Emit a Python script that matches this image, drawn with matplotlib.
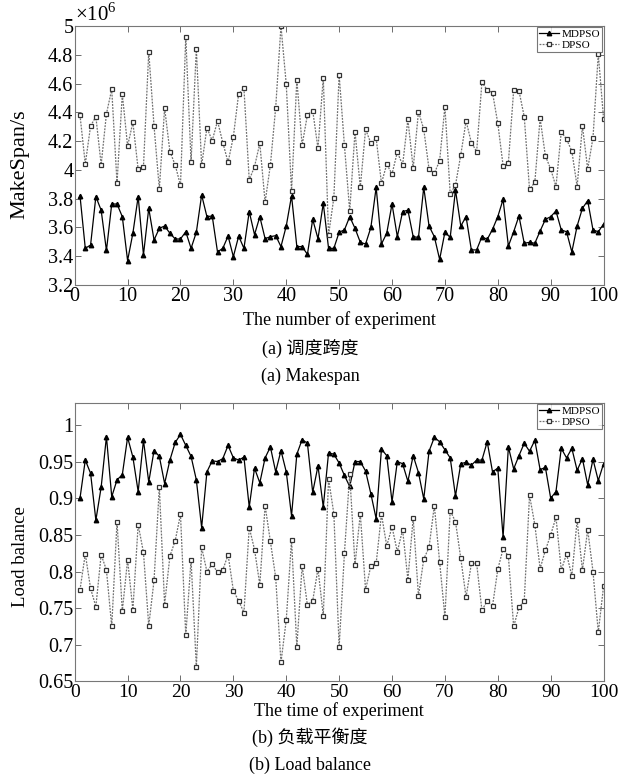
import numpy as np
import matplotlib
matplotlib.use("Agg")
import matplotlib.pyplot as plt
from matplotlib.ticker import FuncFormatter

plt.rcParams['font.family'] = ['Liberation Serif', 'Noto Sans CJK SC']
plt.rcParams['mathtext.fontset'] = 'custom'
plt.rcParams['mathtext.rm'] = 'Liberation Serif'

x = np.arange(1, 101)

# makespan, in units of 1e6 s
ms_mdpso = [3.82, 3.455, 3.478, 3.814, 3.72, 3.44, 3.763, 3.763, 3.675, 3.37,
            3.56, 3.815, 3.41, 3.733, 3.513, 3.594, 3.61, 3.56, 3.52, 3.52,
            3.57, 3.455, 3.567, 3.826, 3.675, 3.68, 3.43, 3.455, 3.54, 3.397,
            3.54, 3.455, 3.71, 3.55, 3.675, 3.522, 3.536, 3.543, 3.467, 3.61,
            3.82, 3.467, 3.467, 3.413, 3.656, 3.522, 3.768, 3.455, 3.455, 3.567,
            3.583, 3.675, 3.594, 3.497, 3.485, 3.6, 3.879, 3.485, 3.56, 3.763,
            3.536, 3.71, 3.72, 3.536, 3.531, 3.879, 3.61, 3.536, 3.378, 3.567,
            3.531, 3.86, 3.61, 3.675, 3.444, 3.444, 3.536, 3.517, 3.587, 3.675,
            3.795, 3.471, 3.57, 3.68, 3.49, 3.497, 3.49, 3.575, 3.656, 3.675,
            3.714, 3.583, 3.57, 3.43, 3.61, 3.733, 3.786, 3.583, 3.57, 3.624]
ms_dpso = [4.38, 4.041, 4.305, 4.37, 4.036, 4.39, 4.56, 3.909, 4.527, 4.166,
           4.33, 4.004, 4.023, 4.82, 4.305, 3.867, 4.43, 4.127, 4.034, 3.893,
           4.926, 4.057, 4.842, 4.032, 4.293, 4.203, 4.34, 4.19, 4.053, 4.231,
           4.53, 4.567, 3.93, 4.023, 4.185, 3.775, 4.034, 4.432, 5.0, 4.595,
           3.853, 4.625, 4.173, 4.382, 4.412, 4.15, 4.641, 3.548, 3.807, 4.66,
           4.17, 3.714, 4.266, 3.879, 4.282, 4.185, 4.22, 3.907, 4.039, 3.972,
           4.124, 4.034, 4.351, 4.011, 4.405, 4.282, 4.006, 3.976, 4.064, 4.44,
           3.833, 3.895, 4.104, 4.34, 4.19, 4.127, 4.609, 4.555, 4.537, 4.324,
           4.03, 4.05, 4.555, 4.55, 4.37, 3.865, 3.914, 4.358, 4.097, 4.006,
           3.884, 4.266, 4.212, 4.131, 3.884, 4.305, 4.006, 4.224, 4.805, 4.356]

lb_mdpso = [0.9, 0.952, 0.934, 0.87, 0.915, 0.984, 0.902, 0.925, 0.932, 0.983,
            0.956, 0.909, 0.979, 0.922, 0.965, 0.957, 0.92, 0.952, 0.976, 0.987,
            0.972, 0.957, 0.925, 0.86, 0.936, 0.951, 0.95, 0.954, 0.972, 0.955,
            0.952, 0.956, 0.888, 0.941, 0.921, 0.955, 0.97, 0.936, 0.965, 0.936,
            0.876, 0.96, 0.98, 0.975, 0.908, 0.944, 0.888, 0.962, 0.96, 0.948,
            0.931, 0.916, 0.95, 0.95, 0.937, 0.906, 0.872, 0.967, 0.958, 0.895,
            0.95, 0.947, 0.923, 0.958, 0.935, 0.899, 0.964, 0.983, 0.977, 0.966,
            0.955, 0.903, 0.947, 0.949, 0.945, 0.952, 0.952, 0.977, 0.936, 0.941,
            0.847, 0.97, 0.94, 0.958, 0.975, 0.964, 0.979, 0.939, 0.942, 0.9,
            0.909, 0.968, 0.955, 0.968, 0.938, 0.954, 0.918, 0.953, 0.924, 0.947]
lb_dpso = [0.775, 0.824, 0.777, 0.752, 0.823, 0.802, 0.725, 0.868, 0.746, 0.816,
           0.748, 0.864, 0.826, 0.726, 0.788, 0.915, 0.755, 0.821, 0.842, 0.878,
           0.713, 0.816, 0.67, 0.833, 0.8, 0.81, 0.799, 0.802, 0.823, 0.774,
           0.76, 0.744, 0.86, 0.83, 0.782, 0.89, 0.841, 0.792, 0.676, 0.734,
           0.843, 0.697, 0.808, 0.754, 0.76, 0.804, 0.74, 0.926, 0.879, 0.697,
           0.825, 0.933, 0.809, 0.879, 0.775, 0.808, 0.811, 0.878, 0.835, 0.861,
           0.827, 0.857, 0.789, 0.873, 0.767, 0.817, 0.833, 0.89, 0.813, 0.738,
           0.883, 0.868, 0.818, 0.765, 0.811, 0.811, 0.747, 0.76, 0.753, 0.803,
           0.831, 0.821, 0.725, 0.751, 0.76, 0.904, 0.864, 0.804, 0.829, 0.85,
           0.874, 0.802, 0.824, 0.794, 0.87, 0.802, 0.857, 0.8, 0.717, 0.78]

fig = plt.figure(figsize=(6.2, 7.76), dpi=100)
ax1 = fig.add_axes([0.1205, 0.6327, 0.853, 0.3338])
ax2 = fig.add_axes([0.1205, 0.1218, 0.853, 0.359])

fmt = FuncFormatter(lambda v, p: '%g' % round(v, 4))


def draw(ax, a, b, ylim, yticks, ylabel, xlabel, ylsize, yly, xly, xtsize):
    ax.plot(x, a, '-', color='black', lw=0.9, marker='^', ms=3.2,
            mfc='black', mec='black', label='MDPSO')
    ax.plot(x, b, linestyle=(0, (1.5, 1.0)), color='#707070', lw=0.9,
            marker='s', ms=3.2, mfc='white', mec='#333333', mew=0.9,
            label='DPSO')
    ax.set_xlim(0, 100)
    ax.set_ylim(*ylim)
    ax.set_xticks(np.arange(0, 101, 10))
    ax.set_yticks(yticks)
    ax.yaxis.set_major_formatter(fmt)
    ax.tick_params(direction='in', top=True, right=True, labelsize=14.5,
                   length=4, width=0.6, color='#555555', pad=1)
    ax.tick_params(axis='x', pad=1.5, labelsize=xtsize)
    for s in ax.spines.values():
        s.set_color('#777777')
        s.set_linewidth(0.8)
    ax.set_ylabel(ylabel, fontsize=ylsize, va='center')
    ax.yaxis.set_label_coords(-0.1034, yly)
    ax.set_xlabel(xlabel, fontsize=13, va='center')
    ax.xaxis.set_label_coords(0.5, xly)
    leg = ax.legend(loc='upper right', fontsize=8, frameon=True, fancybox=False,
                    handlelength=1.8, handletextpad=0.2, borderpad=0.2,
                    labelspacing=0.1, borderaxespad=0.1)
    leg.get_frame().set_edgecolor('#555555')
    leg.get_frame().set_linewidth(0.8)


draw(ax1, ms_mdpso, ms_dpso, (3.2, 5.0), np.arange(3.2, 5.01, 0.2),
     'MakeSpan/s', 'The number of experiment', 16, 0.467, -0.135, 14.5)
ax1.text(0, 1.0, r'$\times10^{6}$', transform=ax1.transAxes, fontsize=15,
         ha='left', va='bottom')

draw(ax2, lb_mdpso, lb_dpso, (0.65, 1.03), np.arange(0.65, 1.001, 0.05),
     'Load balance', 'The time of experiment', 13.5, 0.45, -0.105, 14)

fig.text(0.5, 1 - 348 / 776, '(a) 调度跨度', ha='center', va='center', fontsize=13)
fig.text(0.5, 1 - 376 / 776, '(a) Makespan', ha='center', va='center', fontsize=13)
fig.text(0.5, 1 - 737 / 776, '(b) 负载平衡度', ha='center', va='center', fontsize=13)
fig.text(0.5, 1 - 765 / 776, '(b) Load balance', ha='center', va='center', fontsize=13)

fig.savefig('out.png', dpi=100)
